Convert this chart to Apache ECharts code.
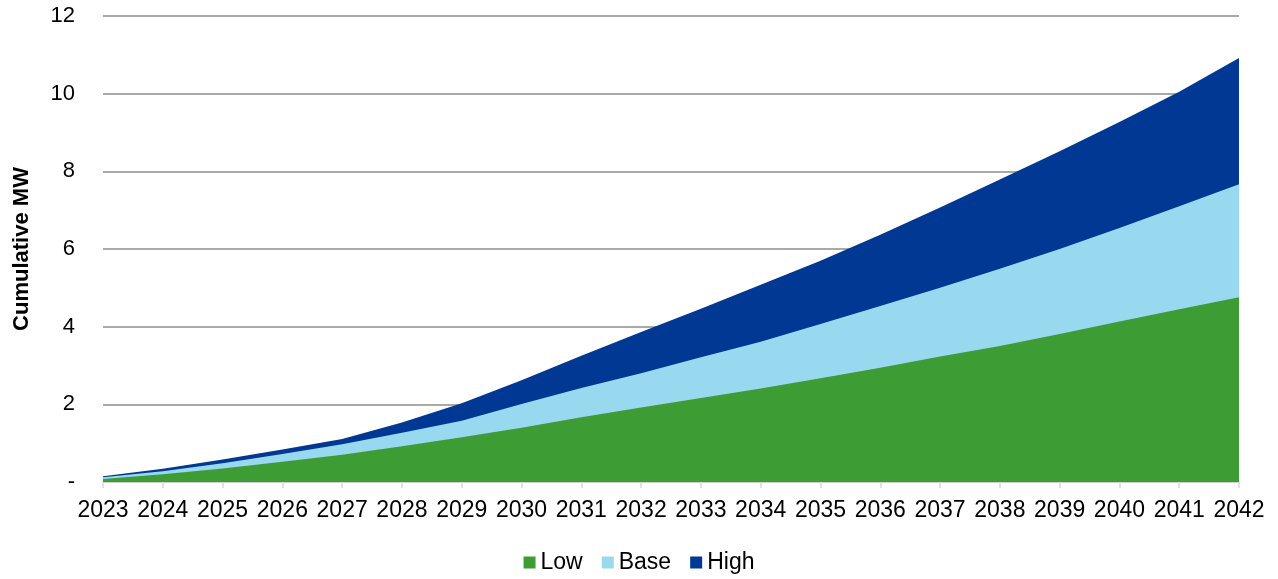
<!DOCTYPE html>
<html>
<head>
<meta charset="utf-8">
<script src="https://cdn.jsdelivr.net/npm/echarts@6/dist/echarts.min.js"></script>
<style>
html,body{margin:0;padding:0;background:#fff;}
#chart{width:1278px;height:579px;}
</style>
</head>
<body>
<div id="chart"></div>
<script>
const years = ['2023','2024','2025','2026','2027','2028','2029','2030','2031','2032','2033','2034','2035','2036','2037','2038','2039','2040','2041','2042'];
const lowValues  = [0.08,0.20,0.35,0.52,0.70,0.92,1.15,1.40,1.67,1.92,2.16,2.41,2.67,2.94,3.23,3.50,3.81,4.13,4.45,4.76];
const baseValues = [0.12,0.28,0.48,0.72,0.97,1.27,1.58,2.01,2.42,2.80,3.21,3.61,4.07,4.53,5.00,5.49,6.00,6.54,7.10,7.67];
const highValues = [0.15,0.34,0.58,0.84,1.11,1.53,2.03,2.62,3.25,3.86,4.46,5.08,5.70,6.37,7.07,7.79,8.52,9.27,10.05,10.92];
const yTicks = {0:'-',2:'2',4:'4',6:'6',8:'8',10:'10',12:'12'};

const chart = echarts.init(document.getElementById('chart'));
const font = 'Liberation Sans, Arial, sans-serif';
function area(name, data, color, z) {
  return {
    name: name, type: 'line', data: data, z: z,
    symbol: 'none', smooth: false,
    lineStyle: {width: 0, color: color},
    itemStyle: {color: color},
    areaStyle: {color: color, opacity: 1},
    emphasis: {disabled: true}
  };
}
chart.setOption({
  animation: false,
  textStyle: {fontFamily: font},
  grid: {left: 103, right: 39, top: 16, bottom: 97, containLabel: false},
  legend: {
    data: ['Low','Base','High'],
    top: 546, left: 'center',
    icon: 'rect', itemWidth: 12, itemHeight: 12, itemGap: 19,
    textStyle: {fontSize: 23, color: '#000', fontFamily: font}
  },
  xAxis: {
    type: 'category', data: years, boundaryGap: false,
    axisLine: {lineStyle: {color: '#d9d9d9', width: 1.5}},
    axisTick: {show: true, alignWithLabel: true, length: 6, lineStyle: {color: '#d9d9d9', width: 1.5}},
    axisLabel: {color: '#000', fontSize: 23, margin: 17, interval: 0, fontFamily: font},
    splitLine: {show: false}
  },
  yAxis: {
    type: 'value', min: 0, max: 12, interval: 2,
    name: 'Cumulative MW', nameLocation: 'middle', nameGap: 70, nameRotate: 90,
    nameTextStyle: {fontSize: 22, fontWeight: 'bold', color: '#000', fontFamily: font},
    axisLine: {show: false}, axisTick: {show: false},
    axisLabel: {color: '#000', fontSize: 22, margin: 28, fontFamily: font,
      formatter: function(v){ return yTicks[v] !== undefined ? yTicks[v] : String(v); }},
    splitLine: {show: true, lineStyle: {color: '#8c8c8c', width: 1.5}}
  },
  series: [
    area('High', highValues, '#003893', 1),
    area('Base', baseValues, '#99d9f0', 2),
    area('Low', lowValues, '#3e9c35', 3)
  ]
});
</script>
</body>
</html>
